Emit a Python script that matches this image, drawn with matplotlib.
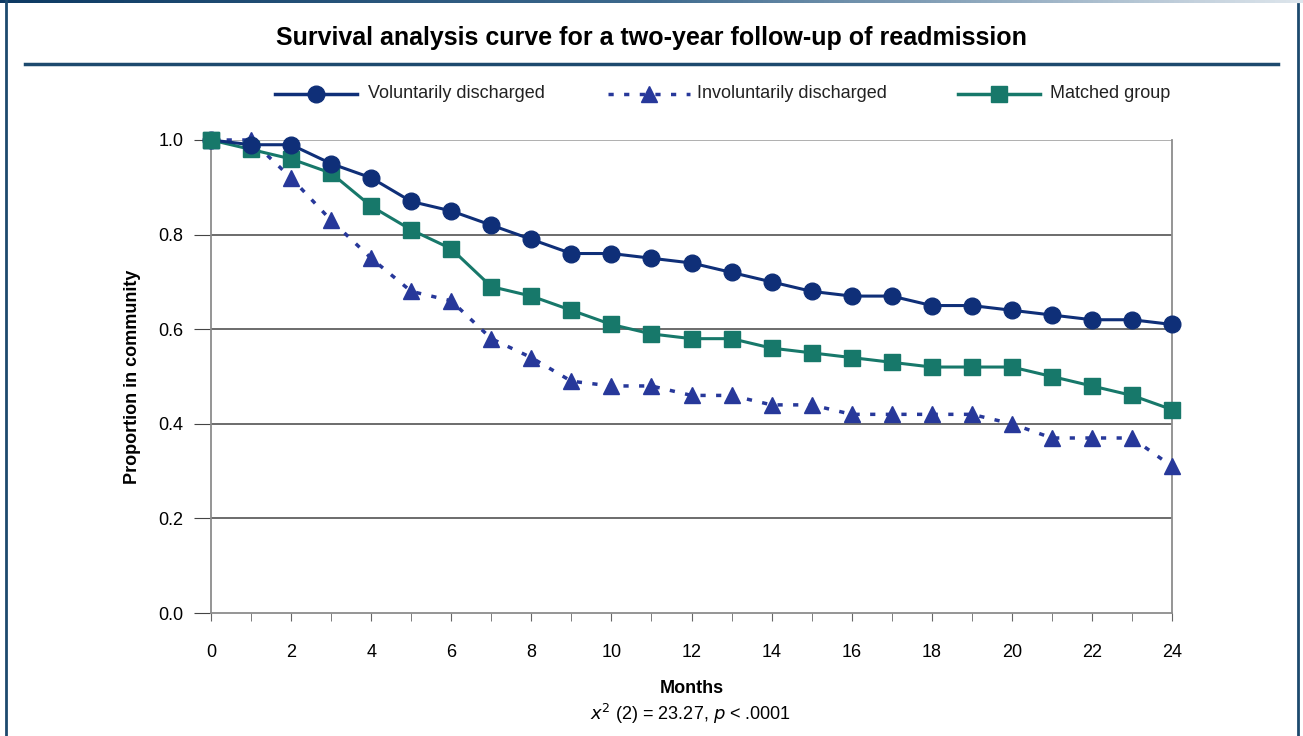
import numpy as np
import matplotlib.pyplot as plt
from matplotlib.lines import Line2D
from matplotlib.colors import LinearSegmentedColormap

plt.rcParams['font.family'] = ['Liberation Sans', 'DejaVu Sans']

# Data
months = list(range(25))
voluntary = [1.00, 0.99, 0.99, 0.95, 0.92, 0.87, 0.85, 0.82, 0.79, 0.76, 0.76, 0.75, 0.74,
             0.72, 0.70, 0.68, 0.67, 0.67, 0.65, 0.65, 0.64, 0.63, 0.62, 0.62, 0.61]
involuntary = [1.00, 1.00, 0.92, 0.83, 0.75, 0.68, 0.66, 0.58, 0.54, 0.49, 0.48, 0.48, 0.46,
               0.46, 0.44, 0.44, 0.42, 0.42, 0.42, 0.42, 0.40, 0.37, 0.37, 0.37, 0.31]
matched = [1.00, 0.98, 0.96, 0.93, 0.86, 0.81, 0.77, 0.69, 0.67, 0.64, 0.61, 0.59, 0.58,
           0.58, 0.56, 0.55, 0.54, 0.53, 0.52, 0.52, 0.52, 0.50, 0.48, 0.46, 0.43]
series_names = ['Voluntarily discharged', 'Involuntarily discharged', 'Matched group']

c_vol = '#0f2f78'
c_inv = '#27389a'
c_mat = '#17786a'
frame_col = '#1d4a6e'

W, H = 1303, 736
fig = plt.figure(figsize=(W / 100, H / 100), dpi=100)
fig.patch.set_facecolor('white')

# frame: gradient strip on top, thin bars on the sides
grad = np.linspace(0, 1, 256).reshape(1, -1)
gax = fig.add_axes([0, 1 - 3 / H, 1, 3 / H])
gax.imshow(grad, aspect='auto',
           cmap=LinearSegmentedColormap.from_list('g', ['#0d3a63', '#3e6a8e', '#dde5ec']))
gax.axis('off')
fig.add_artist(Line2D([5.5 / W, 5.5 / W], [0, 1], color=frame_col, lw=2))
fig.add_artist(Line2D([1297.5 / W, 1297.5 / W], [0, 1 - 4 / H], color=frame_col, lw=2))

# title and rule
fig.text(651 / W, 1 - 38 / H, 'Survival analysis curve for a two-year follow-up of readmission',
         ha='center', va='center', fontsize=18, fontweight='bold')
fig.add_artist(Line2D([25 / W, 1278 / W], [1 - 64 / H, 1 - 64 / H], color=frame_col, lw=2.5))

# legend drawn by hand
ly = 1 - 94 / H
leg = [(275, 357, 368, c_vol, 'o', '-'),
       (608, 690, 697, c_inv, '^', (0, (1.5, 3))),
       (958, 1040, 1050, c_mat, 's', '-')]
for (x0, x1, xt, col, mk, ls), name in zip(leg, series_names):
    fig.add_artist(Line2D([x0 / W, x1 / W], [ly, ly], color=col, lw=2.5, ls=ls))
    fig.add_artist(Line2D([(x0 + x1) / 2 / W], [ly], color=col, marker=mk, ms=12, lw=0))
    fig.text(xt / W, ly, name, ha='left', va='center', fontsize=13, color='#222222')

# main axes
ax = fig.add_axes([211 / W, 1 - 613 / H, (1172 - 211) / W, (613 - 140) / H])
ax.set_xlim(0, 24)
ax.set_ylim(0, 1)
for y in [0.2, 0.4, 0.6, 0.8]:
    ax.axhline(y, color='#444444', lw=1.1, zorder=1)
ax.axhline(1.0, color='#9a9a9a', lw=1.1, zorder=1)
for s in ['left', 'right', 'bottom']:
    ax.spines[s].set_color('#8c8c8c')
    ax.spines[s].set_linewidth(1.3)
ax.spines['top'].set_visible(False)

ax.plot(months, involuntary, color=c_inv, lw=2.5, ls=(0, (1.5, 3)), marker='^', ms=12,
        zorder=3, clip_on=False)
ax.plot(months, matched, color=c_mat, lw=2.2, marker='s', ms=12, zorder=4, clip_on=False)
ax.plot(months, voluntary, color=c_vol, lw=2.2, marker='o', ms=12, zorder=5, clip_on=False)
# matched marker at month 0 sits on top in the reference
ax.plot(months[:1], matched[:1], color=c_mat, marker='s', ms=12, lw=0, zorder=6, clip_on=False)

ax.set_xticks(range(0, 25, 2))
ax.set_xticks(range(0, 25), minor=True)
ax.set_yticks([0.0, 0.2, 0.4, 0.6, 0.8, 1.0])
ax.set_yticklabels(['0.0', '0.2', '0.4', '0.6', '0.8', '1.0'])
ax.tick_params(axis='x', which='both', direction='out', length=6, color='#666666',
               labelsize=13, pad=16)
ax.tick_params(axis='y', direction='out', length=12, color='#444444', labelsize=13, pad=8)

ax.set_xlabel('Months', fontsize=13, fontweight='bold', labelpad=14)
ax.set_ylabel('Proportion in community', fontsize=13, fontweight='bold', labelpad=12)
fig.text(691 / W, 1 - 714 / H, r'$x^2$ (2) = 23.27, $p$ < .0001', ha='center', va='center',
         fontsize=13)

fig.savefig('out.png', dpi=100, facecolor='white')
